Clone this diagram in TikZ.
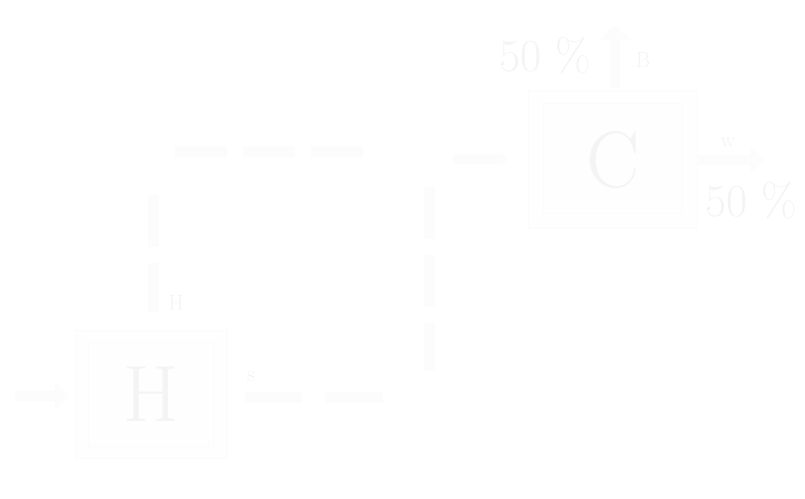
\documentclass[tikz,border=0pt]{standalone}
\usetikzlibrary{arrows.meta}
\definecolor{fnt}{gray}{0.988}
\definecolor{edge}{gray}{0.985}
\definecolor{outerfill}{gray}{0.995}
\definecolor{innerfill}{gray}{0.998}
\definecolor{txt}{gray}{0.955}
\begin{document}
\begin{tikzpicture}[x=1pt,y=-1pt,
  dashline/.style={line width=11pt, draw=fnt, dash pattern=on 52pt off 16pt},
  fatarrow/.style={line width=10pt, draw=fnt, -{Triangle[width=28pt,length=14pt]}},
  thinarrow/.style={line width=10pt, draw=fnt, -{Triangle[width=16pt,length=6pt]}},
  outerbox/.style={draw=edge, fill=outerfill, line width=1pt, inner sep=0pt},
  innerbox/.style={draw=edge, fill=innerfill, line width=0.8pt, inner sep=0pt},
  bigletter/.style={text=txt, font=\fontsize{80}{80}\selectfont},
  pct/.style={text=txt, font=\fontsize{46}{46}\selectfont},
  smalllabel/.style={text=txt, font=\fontsize{22}{22}\selectfont}]
\useasboundingbox (0,0) rectangle (805,498);
\fill[white] (0,0) rectangle (805,498);
% H box
\node[outerbox, minimum width=152pt, minimum height=128pt] (Hout) at (151,394) {};
\node[innerbox, minimum width=125pt, minimum height=104pt] (Hin) at (151,394) {};
\node[bigletter] (H) at (151,394) {H};
% C box
\node[outerbox, minimum width=169pt, minimum height=138pt] (Cout) at (612.5,159) {};
\node[innerbox, minimum width=139pt, minimum height=110pt] (Cin) at (612.5,158) {};
\node[bigletter] (C) at (613,160) {C};
% coordinates
\coordinate (inStart) at (15,396);
\coordinate (inEnd) at (69,396);
\coordinate (upStart) at (615,88);
\coordinate (upEnd) at (615,25);
\coordinate (rtStart) at (698,160);
\coordinate (rtEnd) at (764,160);
\coordinate (cinStart) at (453,159);
\coordinate (cinEnd) at (507,159);
\coordinate (t1) at (175,151);
\coordinate (t2) at (368,151);
\coordinate (v1a) at (153,195);
\coordinate (v1b) at (153,312);
\coordinate (v2a) at (429,187);
\coordinate (v2b) at (429,370);
\coordinate (b1) at (245,397);
\coordinate (b2) at (383,397);
% arrows
\draw[fatarrow] (inStart) -- (inEnd);
\draw[fatarrow] (upStart) -- (upEnd);
\draw[fatarrow] (rtStart) -- (rtEnd);
\draw[thinarrow] (cinStart) -- (cinEnd);
% dashed paths
\draw[dashline] (t1) -- (t2);
\draw[dashline] (v1a) -- (v1b);
\draw[dashline] (v2a) -- (v2b);
\draw[dashline, dash pattern=on 57pt off 24pt] (b1) -- (b2);
% labels
\node[pct] (p1) at (545,56) {50 \%};
\node[pct] (p2) at (751,201) {50 \%};
\node[smalllabel] (lB) at (643,60) {B};
\node[smalllabel] (lw) at (728,143) {w};
\node[smalllabel] (ls) at (251,377) {s};
\node[smalllabel] (lH) at (176,303) {H};
\end{tikzpicture}
\end{document}
